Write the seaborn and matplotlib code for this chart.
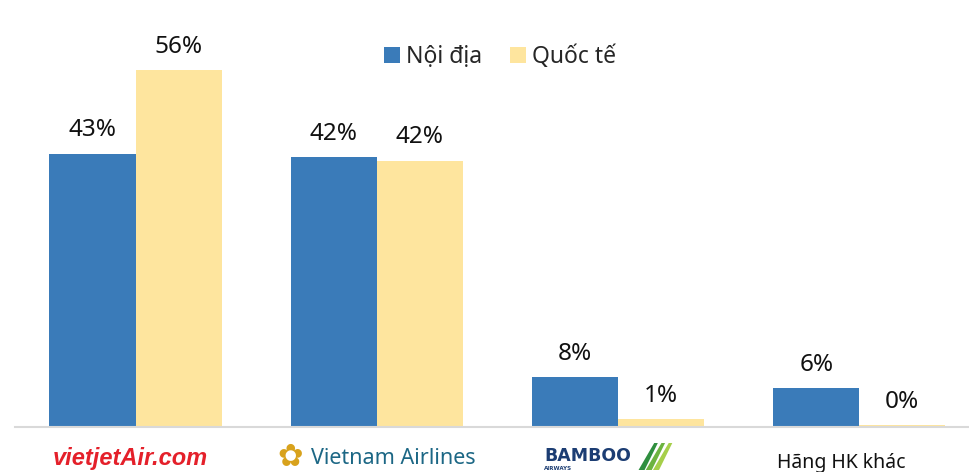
import matplotlib
matplotlib.use("Agg")
import matplotlib.pyplot as plt
import matplotlib.transforms as mtransforms
from matplotlib.patches import Patch, Polygon
import seaborn as sns
import pandas as pd

categories = ["Vietjet", "Vietnam Airlines", "Bamboo", "Hãng HK khác"]
series = ["Nội địa", "Quốc tế"]
noi_dia = [42.9, 42.4, 7.9, 6.1]
quoc_te = [56.0, 41.8, 1.3, 0.3]
labels_noi_dia = ["43%", "42%", "8%", "6%"]
labels_quoc_te = ["56%", "42%", "1%", "0%"]

colors = ["#3a7bb9", "#fee59e"]

df = pd.DataFrame({
    "cat": categories * 2,
    "series": [series[0]] * 4 + [series[1]] * 4,
    "value": noi_dia + quoc_te,
})

sns.set_theme(style="white")
plt.rcParams["font.family"] = ["Noto Sans", "DejaVu Sans"]

fig = plt.figure(figsize=(9.69, 4.72), dpi=100)
ax = fig.add_axes([15 / 969, 45 / 472, 954 / 969, 427 / 472])

sns.barplot(data=df, x="cat", y="value", hue="series", palette=colors,
            width=0.714, gap=0, saturation=1, ax=ax, legend=False,
            edgecolor="none")

ax.set_xlim(-0.5, 3.455)
ax.set_ylim(0, 67)
ax.set_xlabel("")
ax.set_ylabel("")
ax.set_yticks([])
ax.set_xticks([])
for s in ["top", "right", "left"]:
    ax.spines[s].set_visible(False)
ax.spines["bottom"].set_color("#d9d9d9")
ax.spines["bottom"].set_linewidth(1.5)

# value labels
for cont, labs in zip(ax.containers, [labels_noi_dia, labels_quoc_te]):
    ax.bar_label(cont, labels=labs, padding=8, fontsize=17.5, color="#111111")

# legend
handles = [Patch(facecolor=c, edgecolor="none") for c in colors]
fig.legend(handles, series, loc="center", bbox_to_anchor=(500 / 969, 1 - 57 / 472),
           ncol=2, frameon=False, fontsize=16.5, handlelength=0.7, handleheight=0.7,
           handletextpad=0.25, columnspacing=1.2)

# category labels under axis
trans = mtransforms.blended_transform_factory(ax.transData, fig.transFigure)
ylab = 1 - 459 / 472
ax.text(-0.02, ylab, "vietjetAir.com", transform=trans, ha="center", va="center",
        fontsize=17, color="#e4202a", fontweight="bold", style="italic",
        family=["Liberation Sans Narrow", "Liberation Sans", "DejaVu Sans"])
ax.text(1 - 0.36, ylab + 0.004, "\u273f", transform=trans, ha="center", va="center",
        fontsize=22, color="#d8a21c", family=["DejaVu Sans"])
ax.text(1 + 0.07, ylab, "Vietnam Airlines", transform=trans, ha="center", va="center",
        fontsize=15.5, color="#1c6785",
        family=["Liberation Sans Narrow", "Noto Sans", "DejaVu Sans"])
ax.text(2 - 0.125, 1 - 456 / 472, "BAMBOO", transform=trans, ha="center", va="center",
        fontsize=12.5, color="#1c3d73", fontweight="bold", family=["DejaVu Sans"])
ax.text(2 - 0.25, 1 - 468 / 472, "AIRWAYS", transform=trans, ha="center", va="center",
        fontsize=4, color="#1c3d73", fontweight="bold", family=["DejaVu Sans"])

# bamboo leaf mark (logo decoration)
cx = 2 + 0.12
for dx, col in [(0.0, "#2f8f3f"), (0.03, "#6cb33f"), (0.06, "#a6cf4a")]:
    poly = Polygon([(cx + dx - 0.035, 1 - 470 / 472), (cx + dx - 0.01, 1 - 470 / 472),
                    (cx + dx + 0.045, 1 - 443 / 472), (cx + dx + 0.03, 1 - 443 / 472)],
                   closed=True, facecolor=col, edgecolor="none", transform=trans,
                   clip_on=False)
    ax.add_patch(poly)
ax.text(3 - 0.075, 1 - 463 / 472, categories[3], transform=trans, ha="center", va="center",
        fontsize=14, color="#111111")

fig.savefig("out.png", dpi=100)
